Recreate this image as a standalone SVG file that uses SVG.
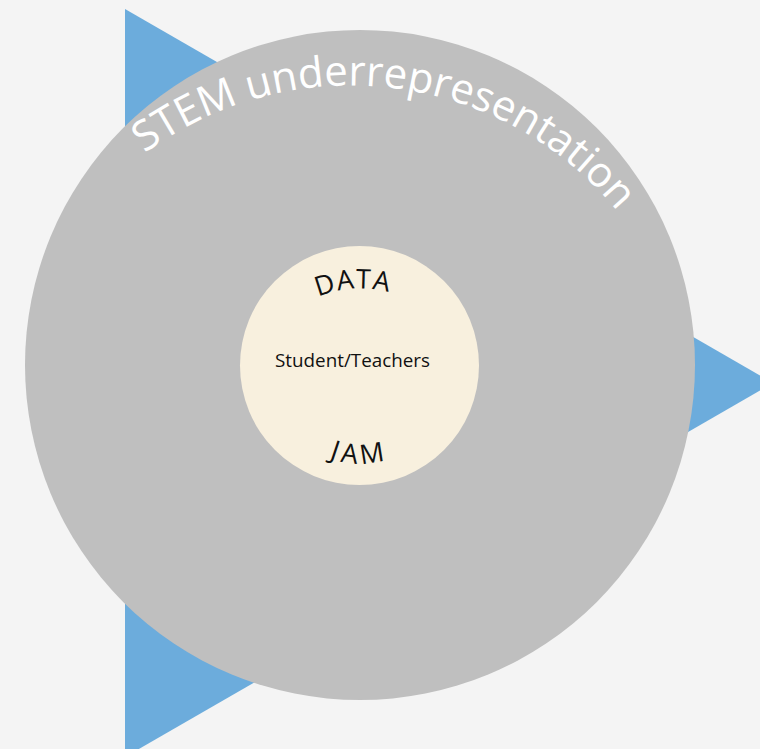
<svg xmlns="http://www.w3.org/2000/svg" xmlns:xlink="http://www.w3.org/1999/xlink" width="760" height="749" viewBox="0 0 760 749">
  <style>
    .t { font-family: "Open Sans", "Liberation Sans", sans-serif; }
    .outer-label { fill: #ffffff; font-size: 42px; }
    .inner-label { fill: #111111; font-size: 27px; }
    .center-label { fill: #111111; font-size: 19px; }
  </style>
  <defs>
    <path id="arcStem" d="M 140 157 A 346 346 0 0 1 618 212"/>
    <path id="arcData" d="M 318 297 Q 354 282 392 293"/>
    <path id="arcJam" d="M 329 458 Q 358 469 388 459"/>
  </defs>
  <rect x="0" y="0" width="760" height="749" fill="#f4f4f4"/>
  <g id="triangle">
    <polygon points="125,9 773,383 125,757" fill="#6cacdc"/>
  </g>
  <g id="outer-circle">
    <circle cx="360" cy="365" r="335" fill="#bfbfbf"/>
    <text class="t outer-label"><textPath xlink:href="#arcStem" href="#arcStem" startOffset="6" textLength="525" lengthAdjust="spacing">STEM underrepresentation</textPath></text>
  </g>
  <g id="inner-circle">
    <circle cx="359.5" cy="365.5" r="119.5" fill="#f8f0de"/>
    <text class="t inner-label"><textPath xlink:href="#arcData" href="#arcData" textLength="72" lengthAdjust="spacing">DATA</textPath></text>
    <text class="t center-label" x="275" y="366.5" textLength="155" lengthAdjust="spacingAndGlyphs">Student/Teachers</text>
    <text class="t inner-label"><textPath xlink:href="#arcJam" href="#arcJam" textLength="57" lengthAdjust="spacing">JAM</textPath></text>
  </g>
  <g id="connectors"></g>
</svg>
